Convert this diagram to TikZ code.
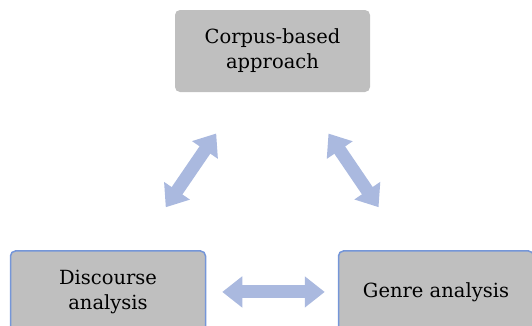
\documentclass[tikz,border=0pt]{standalone}
\usepackage{fontspec}
\setmainfont{DejaVu Serif}
\usetikzlibrary{positioning, arrows.meta}
\definecolor{boxgray}{HTML}{BFBFBF}
\definecolor{boxblue}{HTML}{7596D8}
\definecolor{arrowblue}{HTML}{AAB9DF}

\begin{document}
\begin{tikzpicture}[x=1pt, y=1pt, every node/.style={fill=boxgray, rounded corners=5pt, minimum width=195pt, minimum height=82pt, align=center, inner sep=0pt, font=\fontsize{19.5}{25}\selectfont}, link/.style={draw=arrowblue, line width=13pt, {Triangle[length=20pt, width=30pt]}-{Triangle[length=20pt, width=30pt]}}]
    \useasboundingbox (0,0) rectangle (532,325);
    \clip (0,0) rectangle (532,325);
    \node (corpus) at (272.5,274) {Corpus-based\\approach};
    \node[draw=boxblue, line width=1.5pt] (discourse) [below=158pt of corpus, xshift=-164.5pt] {Discourse\\analysis};
    \node[draw=boxblue, line width=1.5pt] (genre) [below=158pt of corpus, xshift=163.5pt] {Genre analysis};

    \draw[link, shorten <=50pt, shorten >=52pt] (corpus) -- (discourse);
    \draw[link, shorten <=50pt, shorten >=52pt] (corpus) -- (genre);
    \draw[link, shorten <=16pt, shorten >=13pt] (discourse) -- (genre);
\end{tikzpicture}
\end{document}
